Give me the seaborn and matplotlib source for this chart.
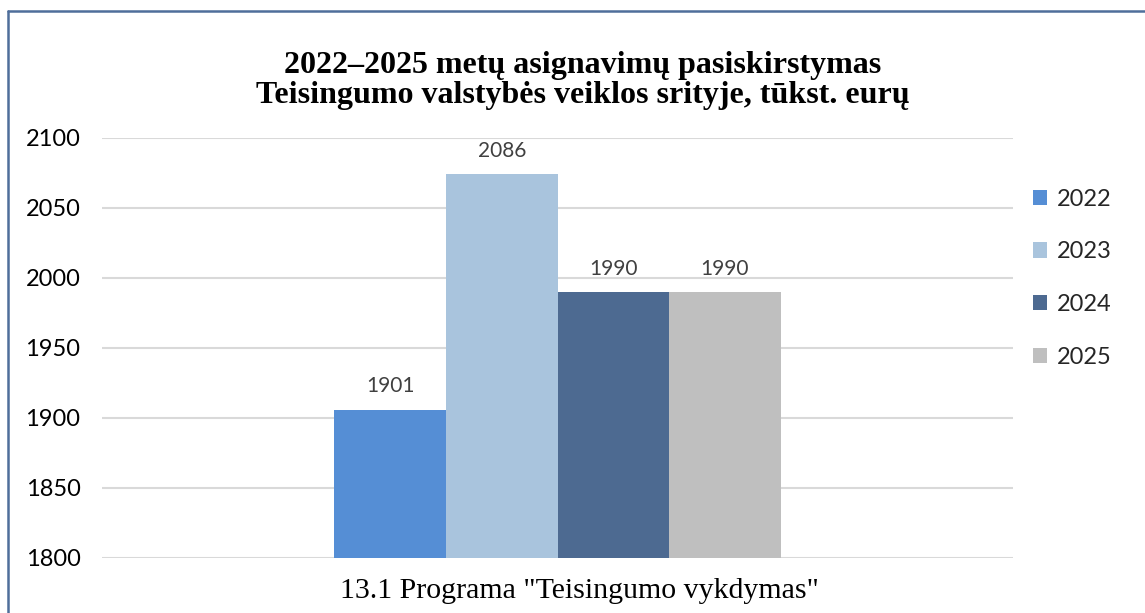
import pandas as pd
import matplotlib.pyplot as plt
import seaborn as sns
from matplotlib.patches import Patch
from matplotlib.lines import Line2D

sns.set_theme(style="white")
plt.rcParams['font.family'] = ['Lato', 'DejaVu Sans']

# -------------------------------------------------------------------
# Data
# -------------------------------------------------------------------
program = '13.1 Programa "Teisingumo vykdymas"'
years = ["2022", "2023", "2024", "2025"]
bar_heights = [1906, 2074, 1990, 1990]      # bar tops as drawn in the picture
value_labels = ["1901", "2086", "1990", "1990"]  # labels printed above the bars
colors = ["#558ED5", "#A9C4DD", "#4D6A91", "#BFBFBF"]
y_ticks = [1800, 1850, 1900, 1950, 2000, 2050, 2100]

df = pd.DataFrame({"programa": [program] * len(years), "metai": years, "suma": bar_heights})

fig = plt.figure(figsize=(11.45, 6.13), dpi=100)
ax = fig.add_axes([102 / 1145, 1 - 558 / 613, 911 / 1145, 420 / 613])

sns.barplot(data=df, x="programa", y="suma", hue="metai", palette=colors,
            width=0.49, saturation=1, linewidth=0, ax=ax, legend=False)

ax.set_ylim(1800, 2100)
ax.set_yticks(y_ticks)
ax.set_yticklabels([str(t) for t in y_ticks])
ax.yaxis.grid(True, color="#D9D9D9", linewidth=1.5)
ax.set_axisbelow(True)
for s in ax.spines.values():
    s.set_visible(False)
ax.tick_params(axis="y", length=0, pad=15.5, labelsize=17, labelcolor="black")
ax.tick_params(axis="x", length=0)
ax.set_xticklabels([])
ax.set_xlabel("")
ax.set_ylabel("")

# value labels above the bars
for bar, lab in zip(ax.patches, value_labels):
    ax.annotate(lab, (bar.get_x() + bar.get_width() / 2, bar.get_height()),
                xytext=(0, 12.5), textcoords="offset points", ha="center",
                va="baseline", fontsize=15, color="#404040")

# category label under the axis
fig.text(579 / 1145, 1 - 591 / 613, program, ha="center", va="center",
         fontsize=21.5, family="Liberation Serif", color="black")

# title
fig.text(583 / 1145, 1 - 65 / 613, "2022\u20132025 metų asignavimų pasiskirstymas",
         ha="center", va="center", fontsize=23, weight="bold",
         family="Liberation Serif", color="black")
fig.text(583 / 1145, 1 - 96 / 613, "Teisingumo valstybės veiklos srityje, tūkst. eurų",
         ha="center", va="center", fontsize=23, weight="bold",
         family="Liberation Serif", color="black")

# legend
handles = [Patch(facecolor=c, edgecolor="none") for c in colors]
fig.legend(handles, years, loc="upper left", bbox_to_anchor=(1021 / 1145, 1 - 177 / 613),
           frameon=False, fontsize=17, borderpad=0, labelspacing=1.34,
           handlelength=0.62, handleheight=0.62, handletextpad=0.4)

# chart border (left and top edges of the embedded chart frame)
fig.add_artist(Line2D([7.5 / 1145, 7.5 / 1145], [0, 1 - 11 / 613], color="#4F6E9B",
                      linewidth=1.8, transform=fig.transFigure))
fig.add_artist(Line2D([7.5 / 1145, 1], [1 - 11 / 613, 1 - 11 / 613], color="#4F6E9B",
                      linewidth=1.8, transform=fig.transFigure))

fig.savefig("out.png", dpi=100)
